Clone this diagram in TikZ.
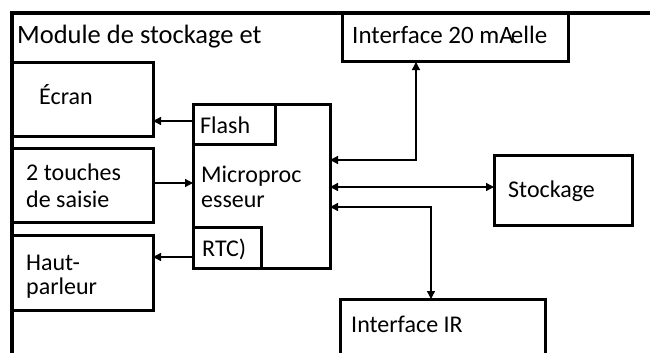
\documentclass[tikz,border=0pt]{standalone}
\usepackage{fontspec}
\setmainfont{Carlito}
\usetikzlibrary{arrows.meta}
\begin{document}
\begin{tikzpicture}[x=1pt,y=-1pt,
 box/.style={draw,line width=3pt,inner sep=0pt,outer sep=0pt,anchor=north west,fill=white},
 lbl/.style={anchor=base west,inner sep=0pt,font=\fontsize{24}{28}\selectfont},
 arr/.style={line width=1.3pt,-{Triangle[length=8pt,width=8pt]}},
 darr/.style={line width=1.3pt,{Triangle[length=8pt,width=8pt]}-{Triangle[length=8pt,width=8pt]}}]
\useasboundingbox (0,0) rectangle (650,353);
% boxes
\node[box,minimum width=226pt,minimum height=49pt] (i20) at (342,13) {};
\node[box,minimum width=141pt,minimum height=73pt] (ecran) at (12,63) {};
\node[box,minimum width=141pt,minimum height=74pt] (touches) at (12,148) {};
\node[box,minimum width=141pt,minimum height=75pt] (haut) at (12,235) {};
\node[box,minimum width=137pt,minimum height=164pt] (micro) at (193,104) {};
\node[box,minimum width=82pt,minimum height=40pt] (flash) at (193,104) {};
\node[box,minimum width=68pt,minimum height=41pt] (rtc) at (193,227) {};
\node[box,minimum width=138pt,minimum height=70pt] (stock) at (494,155) {};
\node[box,minimum width=205pt,minimum height=70pt] (ir) at (340,299) {};
% frame
\draw[line width=4pt] (12,353) coordinate (fb) -- (12,13) coordinate (fc) -- (650,13) coordinate (fr);
% connectors
\draw[arr] (flash.west |- 0,121) -- (ecran.east |- 0,121);
\draw[arr] (touches.east |- 0,183) -- (micro.west |- 0,183);
\draw[arr] (rtc.west |- 0,257) -- (haut.east |- 0,257);
\draw[darr] (micro.east |- 0,160) -| (i20.south -| 416,0);
\draw[darr] (micro.east |- 0,187) -- (stock.west |- 0,187);
\draw[darr] (micro.east |- 0,207) -| (ir.north -| 431,0);
% labels
\node[lbl,font=\fontsize{26.5}{30}\selectfont] (tmod) at (17,44) {Module de stockage et};
\node[lbl,font=\fontsize{25}{30}\selectfont] (ti20) at (352,44) {Interface 20 mA\kern-3pt elle};
\node[lbl] (tecran) at (39,104) {Écran};
\node[lbl] (t2a) at (26,180) {2 touches};
\node[lbl] (t2b) at (26,207) {de saisie};
\node[lbl] (th1) at (26,270) {Haut-};
\node[lbl] (th2) at (26,294) {parleur};
\node[lbl] (tflash) at (200,133) {Flash};
\node[lbl] (tm1) at (201,182) {Microproc};
\node[lbl] (tm2) at (201,207) {esseur};
\node[lbl] (trtc) at (202,256) {RTC)};
\node[lbl] (tst) at (508,197) {Stockage};
\node[lbl] (tir) at (351,332) {Interface IR};
\end{tikzpicture}
\end{document}
